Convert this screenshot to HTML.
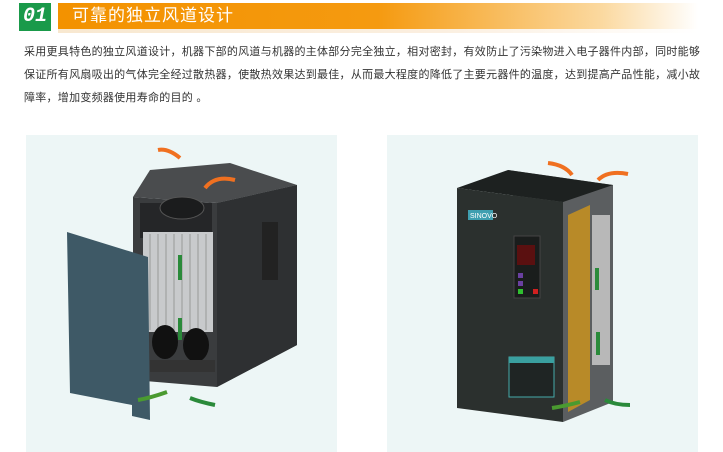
<!DOCTYPE html>
<html><head><meta charset="utf-8"><style>
body{margin:0;width:723px;height:452px;background:#fff;overflow:hidden;position:relative;font-family:"Liberation Sans","Noto Sans CJK SC",sans-serif}
.num{position:absolute;left:19px;top:3px;width:32px;height:28px;background:#1a9a4a;color:#fff;font:italic bold 20px "Liberation Mono",monospace;text-align:center;line-height:28px}
.ban{position:absolute;left:58px;top:3px;width:640px;height:26px;background:linear-gradient(90deg,#f39200 0%,#f59a10 50%,#fbd9a0 85%,#fff 100%)}
.shelf{position:absolute;left:58px;top:29px;width:640px;height:4px;background:linear-gradient(90deg,#f8e8d0,#fbefe0 60%,#fff)}
.ttl{position:absolute;left:72px;top:3px;line-height:26px;color:#fff;font-size:17px;letter-spacing:1px}
.p{position:absolute;left:24px;top:41px;font-size:11px;line-height:23px;color:#333;white-space:nowrap}
.p div{letter-spacing:0.27px}
.pan{position:absolute;top:135px;width:311px;height:317px;background:#edf6f6}
</style></head><body>
<div class="num">01</div><div class="ban"></div><div class="shelf"></div>
<div class="ttl">可靠的独立风道设计</div>
<div class="p"><div>采用更具特色的独立风道设计，机器下部的风道与机器的主体部分完全独立，相对密封，有效防止了污染物进入电子器件内部，同时能够</div><div>保证所有风扇吸出的气体完全经过散热器，使散热效果达到最佳，从而最大程度的降低了主要元器件的温度，达到提高产品性能，减小故</div><div>障率，增加变频器使用寿命的目的 。</div></div>
<div class="pan" style="left:26px"></div>
<div class="pan" style="left:387px"></div>
<svg width="723" height="452" style="position:absolute;left:0;top:0">
<polygon points="133,197 217,203 297,185 297,345 217,387 133,380" fill="#3a3c3e"/>
<polygon points="133,197 217,203 297,185 230,163 150,170" fill="#4a4c4e"/>
<polygon points="217,203 297,185 297,345 217,387" fill="#2e3032"/>
<rect x="140" y="203" width="72" height="35" fill="#252628"/>
<ellipse cx="182" cy="208" rx="22" ry="11" fill="#1b1c1d" stroke="#555"/>
<rect x="143" y="232" width="70" height="100" fill="#c8cacc"/>
<g stroke="#999" stroke-width="1"><line x1="150" y1="234" x2="150" y2="330"/><line x1="158" y1="234" x2="158" y2="330"/><line x1="166" y1="234" x2="166" y2="330"/><line x1="174" y1="234" x2="174" y2="330"/><line x1="182" y1="234" x2="182" y2="330"/><line x1="190" y1="234" x2="190" y2="330"/><line x1="198" y1="234" x2="198" y2="330"/><line x1="206" y1="234" x2="206" y2="330"/></g>
<ellipse cx="165" cy="342" rx="13" ry="17" fill="#111"/><ellipse cx="196" cy="345" rx="13" ry="17" fill="#111"/>
<rect x="150" y="360" width="65" height="12" fill="#333"/>
<rect x="262" y="222" width="16" height="58" fill="#222"/>
<polygon points="67,232 148,257 150,420 132,416 132,405 70,393" fill="#3e5966"/>
<path d="M180 158 Q168 148 158 150" stroke="#f07020" stroke-width="4" fill="none"/>
<path d="M205 188 Q215 175 235 180" stroke="#f07020" stroke-width="4" fill="none"/>
<path d="M180 280 L180 255" stroke="#2a8a3a" stroke-width="4"/>
<path d="M180 340 L180 318" stroke="#2a8a3a" stroke-width="4"/>
<path d="M138 400 Q150 398 167 392" stroke="#4a9a30" stroke-width="4" fill="none"/>
<path d="M215 405 Q200 402 190 398" stroke="#2a8a3a" stroke-width="4" fill="none"/>
<polygon points="508,170 613,185 613,402 563,422" fill="#5b5e60"/>
<polygon points="568,215 590,205 590,400 568,412" fill="#b88a28"/>
<rect x="592" y="215" width="18" height="150" fill="#b8b8b8"/>
<polygon points="457,188 508,170 613,185 563,202" fill="#1d2120"/>
<polygon points="457,188 563,202 563,422 457,408" fill="#2b302e"/>
<rect x="468" y="210" width="25" height="10" fill="#3f9fb0"/>
<text x="470" y="218" font-size="7" fill="#fff" font-family="Liberation Sans">SINOVO</text>
<rect x="514" y="236" width="26" height="62" fill="#1a1d1c" stroke="#444"/>
<rect x="517" y="245" width="18" height="20" fill="#5a1010"/>
<rect x="518" y="273" width="5" height="5" fill="#6a40a0"/><rect x="518" y="281" width="5" height="5" fill="#6a40a0"/>
<rect x="518" y="289" width="5" height="5" fill="#30c030"/><rect x="533" y="289" width="5" height="5" fill="#d02020"/>
<rect x="509" y="357" width="45" height="40" fill="#1f2524" stroke="#4aa"/>
<rect x="509" y="357" width="45" height="6" fill="#3aa0a0"/>
<path d="M572 175 Q565 165 548 163" stroke="#f07020" stroke-width="4" fill="none"/>
<path d="M598 180 Q608 170 628 174" stroke="#f07020" stroke-width="4" fill="none"/>
<path d="M597 290 L597 268" stroke="#2a8a3a" stroke-width="4"/>
<path d="M598 355 L598 332" stroke="#2a8a3a" stroke-width="4"/>
<path d="M552 408 Q565 406 580 402" stroke="#4a9a30" stroke-width="4" fill="none"/>
<path d="M630 405 Q615 405 605 400" stroke="#2a8a3a" stroke-width="4" fill="none"/>
</svg>
</body></html>
